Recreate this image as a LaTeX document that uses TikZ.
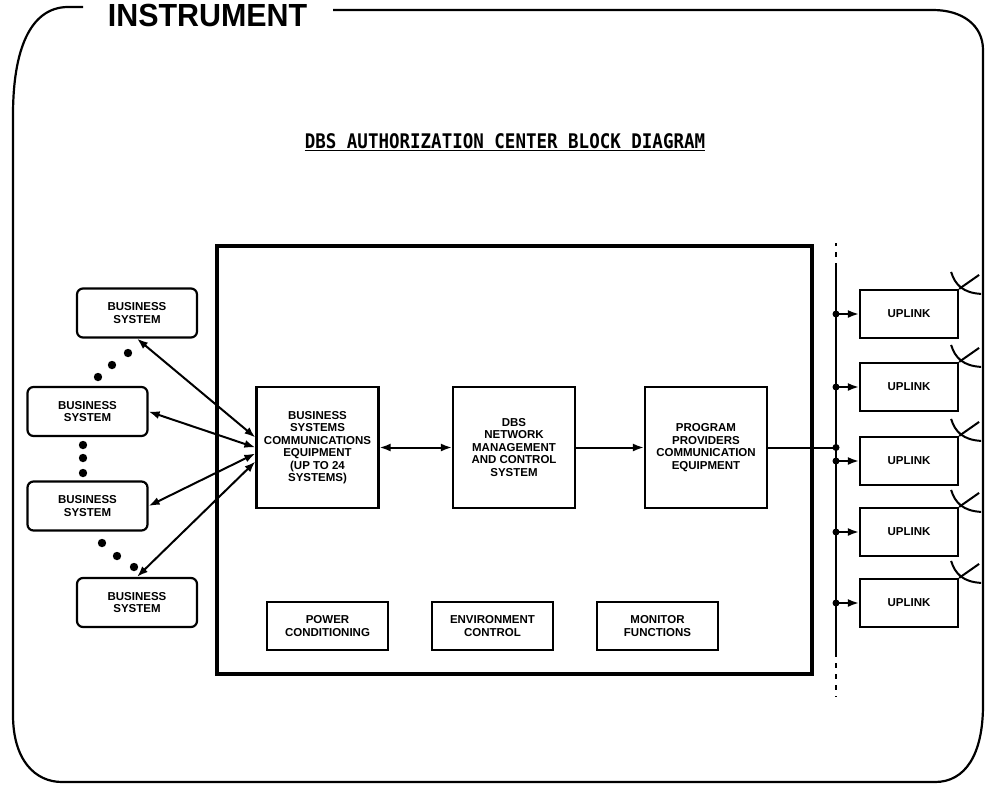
\documentclass[tikz,border=0pt]{standalone}
\usepackage{fontspec}
\setmainfont{Liberation Sans}
\newfontfamily\plotfont{DejaVu Sans Mono}
\usepackage{graphicx}
\usetikzlibrary{arrows.meta}
\begin{document}
\begin{tikzpicture}[x=1pt,y=-1pt,>={Latex[length=11pt,width=8pt]},
  blk/.style={draw,line width=2.2pt,inner sep=0pt,align=center,font=\bfseries\fontsize{11.5}{12.5}\selectfont},
  bsys/.style={blk,rounded corners=6pt,minimum width=120pt,minimum height=49pt},
  cbox/.style={blk,minimum width=122pt,minimum height=121pt},
  sbox/.style={blk,minimum width=121pt,minimum height=48pt},
  uplink/.style={blk,minimum width=98pt,minimum height=48pt},
  link/.style={line width=2pt}]
\useasboundingbox (0,0) rectangle (985,785);
% frame and headings
\draw[line width=2.2pt] (83,7) -- (67,7) .. controls (30,8) and (13,50) .. (13,115) -- (13,715)
  .. controls (13,760) and (35,782) .. (62,782) -- (935,782) .. controls (965,782) and (983,755) .. (983,705)
  -- (983,50) .. controls (983,25) and (962,10) .. (933,10) -- (333,10);
\node[anchor=base,inner sep=0pt,font=\bfseries\fontsize{32}{34}\selectfont] (maker) at (207.5,26) {\scalebox{0.95}[1]{INSTRUMENT}};
\node[anchor=base,inner sep=0pt,font=\plotfont\bfseries\fontsize{17.5}{20}\selectfont] (title) at (505,148) {\scalebox{1}[1.15]{DBS AUTHORIZATION CENTER BLOCK DIAGRAM}};
\draw[line width=1.8pt] ([yshift=-2.5pt]title.base west) -- ([yshift=-2.5pt]title.base east);
% authorization center
\node[draw,line width=4.5pt,minimum width=595pt,minimum height=428pt,inner sep=0pt] (ac) at (514.5,460) {};
\node[cbox] (bsce) at (317.5,447.5) {BUSINESS\\SYSTEMS\\COMMUNICATIONS\\EQUIPMENT\\(UP TO 24\\SYSTEMS)};
\node[cbox] (nmc) at (514,447.5) {DBS\\NETWORK\\MANAGEMENT\\AND CONTROL\\SYSTEM};
\node[cbox] (ppce) at (706,447.5) {PROGRAM\\PROVIDERS\\COMMUNICATION\\EQUIPMENT};
\node[sbox] (pwr) at (327.5,626) {POWER\\CONDITIONING};
\node[sbox] (env) at (492.5,626) {ENVIRONMENT\\CONTROL};
\node[sbox] (mon) at (657.5,626) {MONITOR\\FUNCTIONS};
\draw[link,<->] (bsce) -- (nmc);
\draw[link,->] (nmc) -- (ppce);
% business systems
\node[bsys] (bs1) at (137,313) {BUSINESS\\SYSTEM};
\node[bsys] (bs2) at (87.5,411.5) {BUSINESS\\SYSTEM};
\node[bsys] (bs3) at (87.5,506) {BUSINESS\\SYSTEM};
\node[bsys] (bs4) at (137,602.5) {BUSINESS\\SYSTEM};
\draw[link,<->] (bs1.south) -- ([yshift=10pt]bsce.west);
\draw[link,<->] (bs2.east) -- (bsce.west);
\draw[link,<->] (bs3.east) -- ([yshift=-6pt]bsce.west);
\draw[link,<->] (bs4.north) -- ([yshift=-14pt]bsce.west);
\foreach \x/\y in {128/353,112/365,98/377,83/445,83/458,83/473,102/543,117/556,134/567}
  \fill (\x,\y) circle (4.2pt);
% uplinks
\coordinate (bustop) at (836,268);
\coordinate (busbot) at (836,652);
\draw[line width=2.6pt] (bustop) -- (busbot);
\draw[line width=2.2pt,dash pattern=on 5pt off 6pt] (bustop) -- (836,243);
\draw[line width=2.2pt,dash pattern=on 5pt off 6pt] (busbot) -- (836,697);
\coordinate (j) at (836,447.5);
\fill (j) circle (3.5pt);
\draw[link] (ppce) -- (j);
\foreach \i/\y in {1/314,2/387,3/461,4/532,5/603}{
  \node[uplink] (up\i) at (909,\y) {UPLINK};
  \coordinate (b\i) at (836,\y);
  \fill (b\i) circle (3.5pt);
  \draw[link,->] (b\i) -- (up\i);
  \draw[link] (up\i.north east) -- ++(20,-14);
  \draw[link] ([shift={(-8,-17)}]up\i.north east) .. controls +(4,13) and +(-18,-1) .. ([shift={(22,5)}]up\i.north east);
}
\end{tikzpicture}
\end{document}
